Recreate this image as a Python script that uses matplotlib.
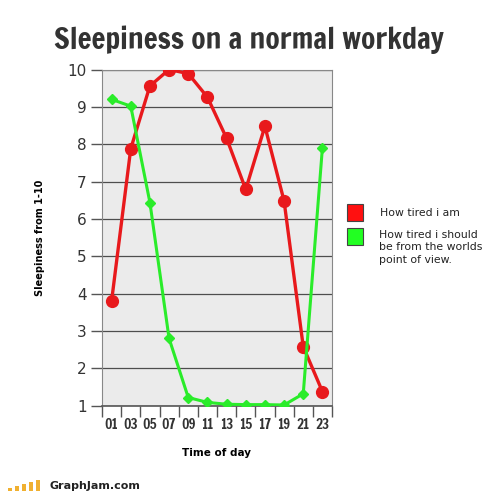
import matplotlib.pyplot as plt
from matplotlib.patches import Rectangle

hours = ["01", "03", "05", "07", "09", "11", "13", "15", "17", "19", "21", "23"]
tired_i_am = [3.8, 7.88, 9.56, 10.0, 9.89, 9.26, 8.16, 6.79, 8.48, 6.48, 2.58, 1.38]
tired_should_be = [9.2, 9.02, 6.44, 2.8, 1.22, 1.09, 1.04, 1.03, 1.03, 1.02, 1.32, 7.91]

red = "#e8191c"
green = "#2aec2a"
heavy = ["Francois One", "Anton", "DejaVu Sans"]

fig = plt.figure(figsize=(5.0, 4.93), dpi=100)
ax = fig.add_axes([0.204, 0.177, 0.46, 0.682])
ax.set_facecolor("#ebebeb")

x = list(range(len(hours)))
ax.plot(x, tired_i_am, color=red, lw=2.4, marker="o", ms=8.5, zorder=3)
ax.plot(x, tired_should_be, color=green, lw=2.2, marker="D", ms=5, zorder=3)

ax.set_xlim(-0.5, len(hours) - 0.5)
ax.set_ylim(1, 10)
ax.set_yticks(range(1, 11))
ax.yaxis.grid(True, color="#4d4d4d", lw=0.9)
ax.set_axisbelow(True)

ax.set_xticks(x)
ax.set_xticklabels(hours, fontfamily=heavy, fontsize=9.8, color="#333333")
ax.tick_params(axis="x", which="major", length=0, pad=9)
ax.set_xticks([i - 0.5 for i in range(len(hours) + 1)], minor=True)
ax.tick_params(axis="x", which="minor", length=8, width=1, color="#555555", direction="out")
ax.tick_params(axis="y", length=8, width=1, color="#555555", direction="out", pad=3,
               labelsize=11, labelcolor="#333333")

for s in ["top", "right", "left"]:
    ax.spines[s].set_color("#888888")
ax.spines["bottom"].set_color("#555555")
ax.spines["bottom"].set_linewidth(1.2)

ax.set_ylabel("Sleepiness from 1-10", fontsize=7, fontweight="bold", labelpad=16)
ax.set_xlabel("Time of day", fontsize=7.5, fontweight="bold", labelpad=12)

fig.text(0.497, 0.92, "Sleepiness on a normal workday", ha="center", va="center",
         fontfamily=heavy, fontsize=21.2, color="#333333")

# legend
fig.patches.append(Rectangle((347 / 500, 1 - 221 / 493), 16 / 500, 17 / 493,
                             transform=fig.transFigure, facecolor="#ff1010", edgecolor="#444444", lw=0.8))
fig.patches.append(Rectangle((347 / 500, 1 - 245 / 493), 16 / 500, 17 / 493,
                             transform=fig.transFigure, facecolor="#22ff22", edgecolor="#444444", lw=0.8))
fig.text(380 / 500, 1 - 213 / 493, "How tired i am", fontsize=7.8, va="center", color="#222222")
fig.text(379 / 500, 1 - 230 / 493, "How tired i should\nbe from the worlds\npoint of view.",
         fontsize=7.8, va="top", color="#222222", linespacing=1.3)

# footer logo
bar_h = [3, 5, 7, 9, 11]
for i, h in enumerate(bar_h):
    fig.patches.append(Rectangle(((8 + i * 7) / 500, 1 - 491 / 493), 3.5 / 500, h / 493,
                                 transform=fig.transFigure, facecolor="#f0b030", edgecolor="none"))
fig.text(49 / 500, 1 - 486 / 493, "GraphJam.com", fontsize=8, fontweight="bold", va="center", color="#222222")

fig.savefig("out.png", dpi=100)
